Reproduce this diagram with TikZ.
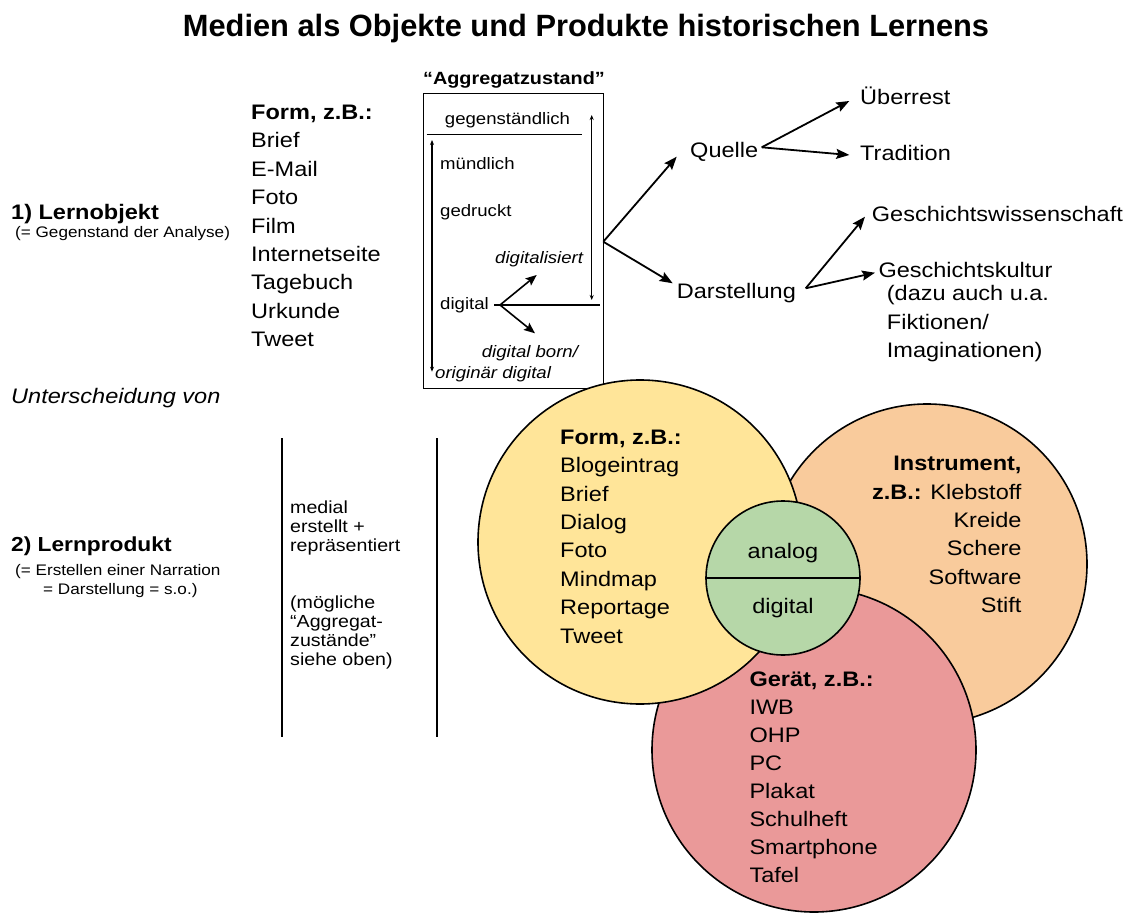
\documentclass[tikz,border=0pt]{standalone}
\usepackage{fontspec}
\setmainfont{Liberation Sans}[FakeStretch=1.12]
\newfontfamily\titlefont{Liberation Sans}[FakeStretch=1.0]
\usetikzlibrary{arrows.meta}
\newcommand{\myfs}[1]{\fontsize{#1}{#1}\selectfont}
\definecolor{cyel}{HTML}{FFE599}
\definecolor{cora}{HTML}{F9CB9C}
\definecolor{cred}{HTML}{EA9999}
\definecolor{cgrn}{HTML}{B6D7A8}
\begin{document}
\begin{tikzpicture}[x=1pt,y=-1pt,
  t/.style={inner sep=0pt, anchor=base west, font=\myfs{21}},
  tr/.style={inner sep=0pt, anchor=base east, font=\myfs{21}},
  tb/.style={t, font=\myfs{21}\bfseries},
  ts/.style={inner sep=0pt, anchor=base west, font=\myfs{15.3}},
  tm/.style={inner sep=0pt, anchor=base west, font=\myfs{17.5}},
  tbox/.style={inner sep=0pt, anchor=base west, font=\myfs{16.6}},
  tboxi/.style={tbox, font=\myfs{16.6}\itshape},
  bigarr/.style={line width=1.8pt, -{Stealth[length=13pt,width=10pt,inset=2pt]}},
  midarr/.style={line width=1.6pt, -{Stealth[length=11pt,width=9pt,inset=2pt]}},
  smallarr/.style={line width=1.3pt, {Stealth[length=5pt,width=4pt]}-{Stealth[length=5pt,width=4pt]}},
  circ/.style={circle, draw=black, line width=1.6pt, inner sep=0pt}
]
\useasboundingbox (0,0) rectangle (1136,915);

% title
\node[inner sep=0pt, anchor=base, font=\titlefont\myfs{30.8}\bfseries] (title) at (586,36.7)
  {Medien als Objekte und Produkte historischen Lernens};

% left labels
\node[tb] (lo) at (11,219.5) {1) Lernobjekt};
\node[ts] (lo2) at (15,237.5) {(= Gegenstand der Analyse)};
\node[t, font=\myfs{21}\itshape] (unt) at (11,403.5) {Unterscheidung von};
\node[tb, font=\myfs{20.3}\bfseries] (lp) at (11,551.7) {2) Lernprodukt};
\node[ts] (lp2) at (15,575) {(= Erstellen einer Narration};
\node[ts] (lp3) at (43,594) {= Darstellung = s.o.)};

% form list
\node[tb] (form) at (251,119.5) {Form, z.B.:};
\foreach \w [count=\i] in {Brief,E-Mail,Foto,Film,Internetseite,Tagebuch,Urkunde,Tweet}
  \node[t] (f\i) at (251,119.5+28.4*\i) {\w};

% Aggregatzustand box
\node[inner sep=0pt, anchor=base, font=\myfs{17.7}\bfseries] (agg) at (514,85) {“Aggregatzustand”};
\node[draw, line width=1.1pt, inner sep=0pt, minimum width=180pt, minimum height=295pt, anchor=north west] (box) at (423,93) {};
\node[inner sep=0pt, anchor=base, font=\myfs{16.6}] (geg) at (507.5,125) {gegenständlich};
\coordinate (gl1) at (426.7,134.3);
\coordinate (gl2) at (581.7,134.3);
\draw[line width=1.5pt] (gl1) -- (gl2);
\node[tbox] (muend) at (440,170) {mündlich};
\node[tbox] (gedr) at (440,216.7) {gedruckt};
\node[tboxi] (digi) at (495,263.3) {digitalisiert};
\node[tbox] (dig) at (440,309.3) {digital};
\node[tboxi] (born) at (481.7,357.3) {digital born/};
\node[tboxi] (orig) at (435,378.3) {originär digital};
\coordinate (lv1) at (432,371.7);
\coordinate (lv2) at (432,140);
\draw[smallarr] (lv1) -- (lv2);
\coordinate (rv1) at (591.7,115);
\coordinate (rv2) at (591.7,300);
\draw[smallarr] (rv1) -- (rv2);
\coordinate (jd0) at (494,305);
\coordinate (jd) at (500,305);
\coordinate (je) at (600,305);
\draw[line width=1.5pt] (jd0) -- (je);
\coordinate (jup) at (536.7,275);
\coordinate (jdn) at (535,333.3);
\draw[midarr] (jd) -- (jup);
\draw[midarr] (jd) -- (jdn);

% right tree
\coordinate (b0) at (603.3,241.7);
\node[t] (quelle) at (690,157.3) {Quelle};
\node[t] (darst) at (676.7,298.3) {Darstellung};
\coordinate (tq) at (676.7,156.7);
\coordinate (td) at (672.7,283.3);
\draw[bigarr] (b0) -- (tq);
\draw[bigarr] (b0) -- (td);
\coordinate (qb) at (761.7,147.3);
\node[t] (ueber) at (860,105) {Überrest};
\node[t] (trad) at (860,160.7) {Tradition};
\coordinate (tu) at (849.3,101);
\coordinate (tt) at (849.3,155);
\draw[bigarr] (qb) -- (tu);
\draw[bigarr] (qb) -- (tt);
\coordinate (db) at (805.7,288.3);
\node[t] (gw) at (871.7,221.7) {Geschichtswissenschaft};
\node[t] (gk) at (878.3,277.7) {Geschichtskultur};
\node[t] (gk2) at (886.7,300.7) {(dazu auch u.a.};
\node[t] (gk3) at (886.7,329.3) {Fiktionen/};
\node[t] (gk4) at (886.7,357.3) {Imaginationen)};
\coordinate (tgw) at (865,216.7);
\coordinate (tgk) at (875,272.7);
\draw[bigarr] (db) -- (tgw);
\draw[bigarr] (db) -- (tgk);

% separators
\coordinate (s1a) at (282,438);
\coordinate (s1b) at (282,737);
\coordinate (s2a) at (437,438);
\coordinate (s2b) at (437,737);
\draw[line width=1.8pt] (s1a) -- (s1b);
\draw[line width=1.8pt] (s2a) -- (s2b);
\node[tm] (m1) at (290,513.3) {medial};
\node[tm] (m2) at (290,532.3) {erstellt +};
\node[tm] (m3) at (290,551) {repräsentiert};
\node[tm] (m4) at (290,608.3) {(mögliche};
\node[tm] (m5) at (290,627.3) {“Aggregat-};
\node[tm] (m6) at (290,646.7) {zustände”};
\node[tm] (m7) at (290,665.7) {siehe oben)};

% circles
\node[circ, fill=cora, minimum size=320pt] (ora) at (927,564) {};
\node[circ, fill=cred, minimum size=324pt] (red) at (814,750) {};
\node[circ, fill=cyel, minimum size=324pt] (yel) at (640,542) {};
\node[circ, fill=cgrn, minimum size=154pt] (grn) at (783,578) {};
\draw[line width=1.6pt] (grn.west) -- (grn.east);
\node[inner sep=0pt, anchor=base, font=\myfs{21}] (ana) at (783,558.3) {analog};
\node[inner sep=0pt, anchor=base, font=\myfs{21}] (dgt) at (783,613.3) {digital};

% yellow texts
\node[tb] (yform) at (560,444.3) {Form, z.B.:};
\foreach \w [count=\i] in {Blogeintrag,Brief,Dialog,Foto,Mindmap,Reportage,Tweet}
  \node[t] (y\i) at (560,444.3+28.4*\i) {\w};

% orange texts
\node[tr, font=\myfs{21}\bfseries] (oinst) at (1021.7,470.7) {Instrument,};
\node[tr] (o1) at (1021.7,499) {\textbf{z.B.:} Klebstoff};
\node[tr] (o2) at (1021.7,527.3) {Kreide};
\node[tr] (o3) at (1021.7,555.7) {Schere};
\node[tr] (o4) at (1021.7,584) {Software};
\node[tr] (o5) at (1021.7,612.3) {Stift};

% red texts
\node[tb] (rger) at (749.3,686.7) {Gerät, z.B.:};
\foreach \w [count=\i] in {IWB,OHP,PC,Plakat,Schulheft,Smartphone,Tafel}
  \node[t] (r\i) at (749.3,686.7+28.0*\i) {\w};
\end{tikzpicture}
\end{document}
